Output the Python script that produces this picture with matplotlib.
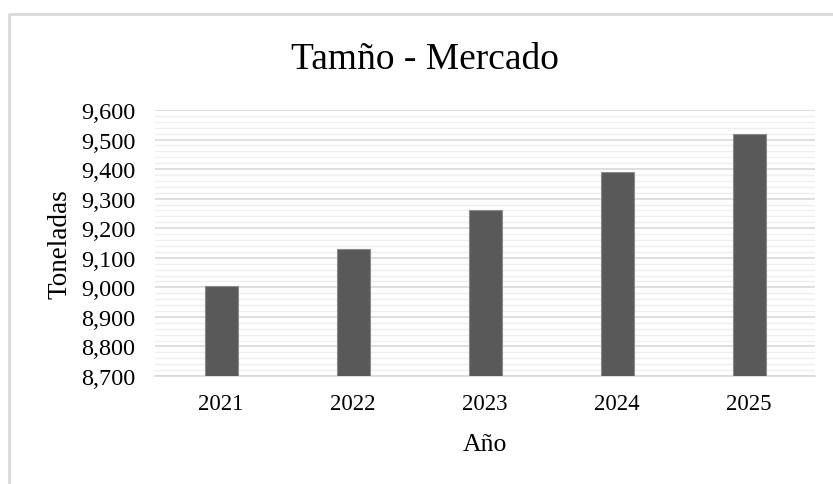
import matplotlib
matplotlib.use("Agg")
import matplotlib.pyplot as plt
from matplotlib.lines import Line2D
from matplotlib.ticker import MultipleLocator, FuncFormatter

years = ["2021", "2022", "2023", "2024", "2025"]
toneladas = [9005, 9130, 9260, 9390, 9520]

plt.rcParams['font.family'] = ['Liberation Serif', 'DejaVu Serif']

fig = plt.figure(figsize=(8.33, 4.85), dpi=100)
ax = fig.add_axes([0.1861, 0.2227, 0.7923, 0.5484])

x = range(len(years))
ax.bar(x, toneladas, width=0.25, color='#595959', edgecolor='#8c8c8c', linewidth=0.8, zorder=3)

ax.set_xlim(-0.5, len(years) - 0.5)
ax.set_ylim(8700, 9600)
ax.yaxis.set_major_locator(MultipleLocator(100))
ax.yaxis.set_minor_locator(MultipleLocator(20))
ax.yaxis.set_major_formatter(FuncFormatter(lambda v, p: f"{v:,.0f}"))
ax.set_xticks(list(x))
ax.set_xticklabels(years)

ax.grid(axis='y', which='major', color='#d9d9d9', linewidth=1.2, zorder=0)
ax.grid(axis='y', which='minor', color='#efefef', linewidth=1.0, zorder=0)
ax.set_axisbelow(True)

for s in ['top', 'right', 'left']:
    ax.spines[s].set_visible(False)
ax.spines['bottom'].set_color('#d9d9d9')
ax.spines['bottom'].set_linewidth(1.2)

ax.tick_params(axis='both', which='both', length=0, colors='black')
ax.tick_params(axis='x', labelsize=16.5, pad=12)
ax.tick_params(axis='y', labelsize=17.5, pad=14)

ax.set_ylabel("Toneladas", fontsize=19.5, labelpad=6)
ax.set_xlabel("Año", fontsize=18.5, labelpad=14)

fig.text(0.5102, 0.876, "Tamño - Mercado", fontsize=27, ha='center', va='center')

# cropped chart frame (only left and top edges visible)
fig.add_artist(Line2D([0.0108, 0.0108, 1.0], [0.0, 0.969, 0.969], transform=fig.transFigure,
                      color='#d9d9d9', linewidth=2))

fig.savefig("out.png", dpi=100)
